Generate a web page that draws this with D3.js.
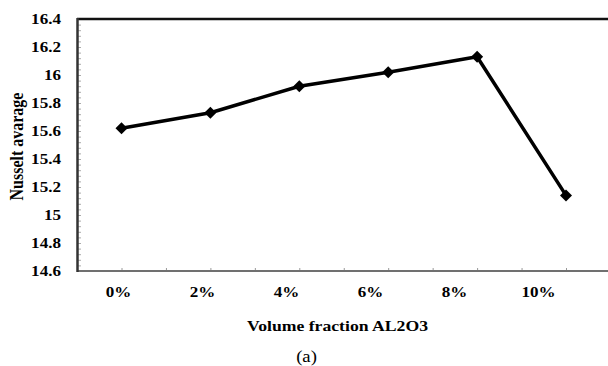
<!DOCTYPE html>
<html>
<head>
<meta charset="utf-8">
<script src="https://cdn.jsdelivr.net/npm/d3@7"></script>
<style>
  body { margin: 0; background: #fff; }
</style>
</head>
<body>
<svg id="chart"></svg>
<script>
// data
var categories = ["0%", "2%", "4%", "6%", "8%", "10%"];
var nusselt = [15.62, 15.73, 15.92, 16.02, 16.13, 15.14];
var yTicks = [14.6, 14.8, 15, 15.2, 15.4, 15.6, 15.8, 16, 16.2, 16.4];

var width = 608, height = 366;
var stretch = 1.22;  // the picture is a bit wide, text looks stretched
var font = '"Liberation Serif", "Times New Roman", serif';

var svg = d3.select('#chart')
    .attr('width', width)
    .attr('height', height);

var y = d3.scaleLinear().domain([14.6, 16.4]).range([271, 19]);
var x = d3.scalePoint().domain(categories).range([121.5, 566]);
var xLabel = d3.scalePoint().domain(categories).range([118.5, 538.5]);  // labels sit a bit off the points
var xi = d3.scaleLinear().domain([0, categories.length - 1]).range([121.5, 566]);

// minor ticks on the left axis (inside)
svg.append('g')
    .attr('transform', 'translate(78,0)')
    .call(d3.axisRight(y).tickValues(d3.range(14.6, 16.401, 0.04)).tickSize(3).tickFormat(''))
    .call(g => g.select('.domain').remove())
    .call(g => g.selectAll('line').attr('stroke', '#aaa'));

// ticks on the bottom axis (inside), at points and between them
svg.append('g')
    .attr('transform', 'translate(0,271)')
    .call(d3.axisTop(xi).tickValues(d3.range(0, 5.01, 0.5)).tickSize(3).tickFormat(''))
    .call(g => g.select('.domain').remove())
    .call(g => g.selectAll('line').attr('stroke', '#999'));

// frame lines
svg.append('line').attr('x1', 77).attr('x2', width).attr('y1', 19).attr('y2', 19)
    .attr('stroke', '#111').attr('stroke-width', 2.5);
svg.append('line').attr('x1', 77.5).attr('x2', width).attr('y1', 271).attr('y2', 271)
    .attr('stroke', '#707070').attr('stroke-width', 2);
svg.append('line').attr('x1', 77.5).attr('x2', 77.5).attr('y1', 18).attr('y2', 272)
    .attr('stroke', '#333').attr('stroke-width', 2.5);

// y tick labels
svg.selectAll('text.ytick')
    .data(yTicks)
    .enter()
    .append('text')
    .attr('class', 'ytick')
    .attr('transform', d => 'translate(61,' + (y(d) + 4.6) + ') scale(' + stretch + ',1)')
    .attr('text-anchor', 'end')
    .attr('font-family', font)
    .attr('font-size', 14)
    .attr('font-weight', 'bold')
    .text(d => d);

// x tick labels
svg.selectAll('text.xtick')
    .data(categories)
    .enter()
    .append('text')
    .attr('class', 'xtick')
    .attr('transform', d => 'translate(' + xLabel(d) + ',297) scale(' + stretch + ',1)')
    .attr('text-anchor', 'middle')
    .attr('font-family', font)
    .attr('font-size', 14)
    .attr('font-weight', 'bold')
    .text(d => d);

// axis titles
svg.append('text')
    .attr('transform', 'translate(337.5,331) scale(' + stretch + ',1)')
    .attr('text-anchor', 'middle')
    .attr('font-family', font)
    .attr('font-size', 14.5)
    .attr('font-weight', 'bold')
    .text('Volume fraction AL2O3');

svg.append('text')
    .attr('transform', 'translate(16,146.5) rotate(-90) scale(1,' + stretch + ')')
    .attr('text-anchor', 'middle')
    .attr('dominant-baseline', 'central')
    .attr('font-family', font)
    .attr('font-size', 16)
    .attr('font-weight', 'bold')
    .text('Nusselt avarage');

svg.append('text')
    .attr('transform', 'translate(306.5,362) scale(1.1,1)')
    .attr('text-anchor', 'middle')
    .attr('font-family', font)
    .attr('font-size', 17)
    .text('(a)');

// the line
var line = d3.line()
    .x((d, i) => x(categories[i]))
    .y(d => y(d));

svg.append('path')
    .datum(nusselt)
    .attr('d', line)
    .attr('fill', 'none')
    .attr('stroke', '#000')
    .attr('stroke-width', 3.5)
    .attr('stroke-linejoin', 'round');

// diamond markers
svg.selectAll('path.marker')
    .data(nusselt)
    .enter()
    .append('path')
    .attr('class', 'marker')
    .attr('d', d3.symbol(d3.symbolSquare, 72))
    .attr('transform', (d, i) => 'translate(' + x(categories[i]) + ',' + y(d) + ') rotate(45)')
    .attr('fill', '#000');
</script>
</body>
</html>
